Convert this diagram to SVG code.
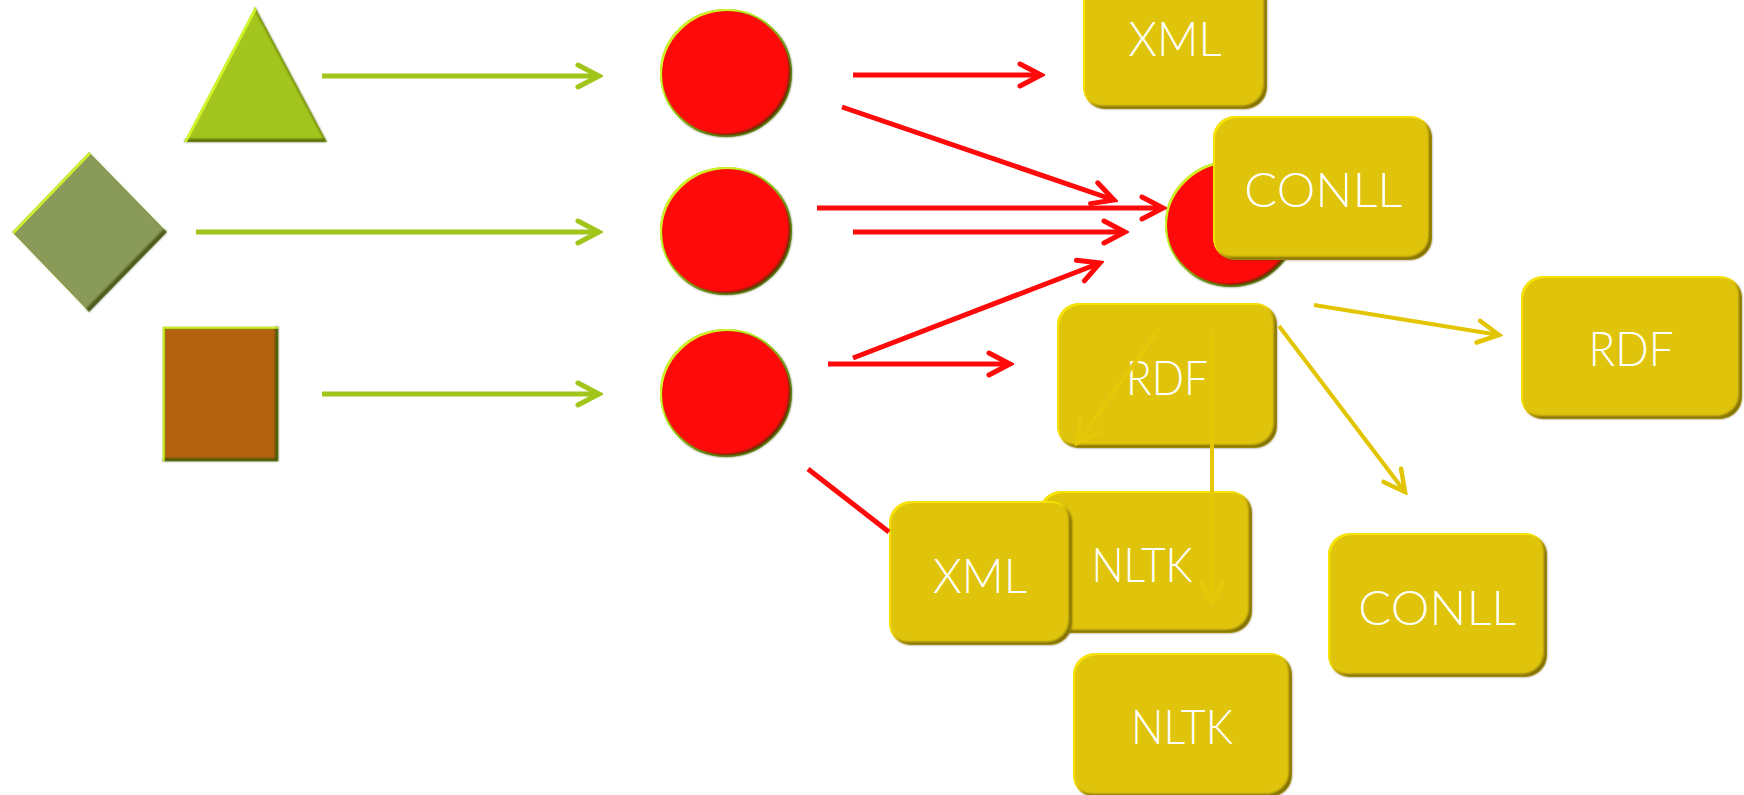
<svg xmlns="http://www.w3.org/2000/svg" width="1744" height="795" viewBox="0 0 1744 795">
  <style>
    .box { fill: #e0c40c; filter: url(#bevel-box); }
    .label { fill: #ffffff; font-family: Lato, "Open Sans", "Liberation Sans", sans-serif; font-weight: 300; font-size: 48px; text-anchor: middle; }
    .dot { fill: #ff0a0a; stroke: #8db51a; stroke-width: 2; filter: url(#bevel-shape); }
    .green { stroke: #a2c51c; stroke-width: 5; fill: none; marker-end: url(#head-green); }
    .red { stroke: #ff0a0a; stroke-width: 5; fill: none; }
    .red.arrow { marker-end: url(#head-red); }
    .gold { stroke: #e2c500; stroke-width: 4; fill: none; marker-end: url(#head-gold); }
    .gold.faint { stroke: #e5c808; marker-end: url(#head-faint); }
  </style>
  <defs>
    <!-- bevel: dark bottom/right rim, bright top/left rim -->
    <filter id="bevel-box" x="-5%" y="-5%" width="110%" height="110%" color-interpolation-filters="sRGB">
      <feOffset in="SourceAlpha" dx="-3" dy="-3" result="up"/>
      <feComposite in="SourceAlpha" in2="up" operator="out" result="brEdge"/>
      <feGaussianBlur in="brEdge" stdDeviation="0.9" result="brSoft"/>
      <feFlood flood-color="#3a3000" flood-opacity="0.6"/>
      <feComposite in2="brSoft" operator="in" result="dark"/>
      <feOffset in="SourceAlpha" dx="2" dy="2" result="down"/>
      <feComposite in="SourceAlpha" in2="down" operator="out" result="tlEdge"/>
      <feGaussianBlur in="tlEdge" stdDeviation="0.6" result="tlSoft"/>
      <feFlood flood-color="#fff200" flood-opacity="0.7"/>
      <feComposite in2="tlSoft" operator="in" result="light"/>
      <feMerge>
        <feMergeNode in="SourceGraphic"/>
        <feMergeNode in="dark"/>
        <feMergeNode in="light"/>
      </feMerge>
    </filter>
    <filter id="bevel-shape" x="-5%" y="-5%" width="110%" height="110%" color-interpolation-filters="sRGB">
      <feOffset in="SourceAlpha" dx="-3" dy="-3" result="up"/>
      <feComposite in="SourceAlpha" in2="up" operator="out" result="brEdge"/>
      <feGaussianBlur in="brEdge" stdDeviation="0.9" result="brSoft"/>
      <feFlood flood-color="#2e3a00" flood-opacity="0.7"/>
      <feComposite in2="brSoft" operator="in" result="dark"/>
      <feOffset in="SourceAlpha" dx="2" dy="2" result="down"/>
      <feComposite in="SourceAlpha" in2="down" operator="out" result="tlEdge"/>
      <feGaussianBlur in="tlEdge" stdDeviation="0.6" result="tlSoft"/>
      <feFlood flood-color="#d8ff2a" flood-opacity="0.85"/>
      <feComposite in2="tlSoft" operator="in" result="light"/>
      <feMerge>
        <feMergeNode in="SourceGraphic"/>
        <feMergeNode in="dark"/>
        <feMergeNode in="light"/>
      </feMerge>
    </filter>
    <!-- open chevron arrowheads -->
    <marker id="head-green" viewBox="-26 -15 30 30" refX="0" refY="0" markerWidth="30" markerHeight="30" markerUnits="userSpaceOnUse" orient="auto">
      <path d="M-21,-11 L0,0 L-21,11" fill="none" stroke="#a2c51c" stroke-width="5" stroke-linecap="round"/>
    </marker>
    <marker id="head-red" viewBox="-26 -15 30 30" refX="0" refY="0" markerWidth="30" markerHeight="30" markerUnits="userSpaceOnUse" orient="auto">
      <path d="M-21,-11 L0,0 L-21,11" fill="none" stroke="#ff0a0a" stroke-width="5" stroke-linecap="round"/>
    </marker>
    <marker id="head-gold" viewBox="-26 -15 30 30" refX="0" refY="0" markerWidth="30" markerHeight="30" markerUnits="userSpaceOnUse" orient="auto">
      <path d="M-21,-11 L0,0 L-21,11" fill="none" stroke="#e2c500" stroke-width="4.5" stroke-linecap="round"/>
    </marker>
    <marker id="head-faint" viewBox="-26 -15 30 30" refX="0" refY="0" markerWidth="30" markerHeight="30" markerUnits="userSpaceOnUse" orient="auto">
      <path d="M-21,-11 L0,0 L-21,11" fill="none" stroke="#e5c808" stroke-width="4" stroke-linecap="round"/>
    </marker>
  </defs>

  <rect width="1744" height="795" fill="#ffffff"/>

  <!-- source shapes -->
  <g id="triangle">
    <polygon points="255,7 327,142 184,142" fill="#a3c51d" filter="url(#bevel-shape)"/>
  </g>
  <g id="diamond">
    <polygon points="89,152 167,232 89,312 12,232" fill="#8a9a58" filter="url(#bevel-shape)"/>
  </g>
  <g id="square">
    <rect x="164" y="328" width="113" height="132" fill="#b5620e" stroke="#7a9412" stroke-width="2.5" filter="url(#bevel-shape)"/>
  </g>

  <!-- red hubs -->
  <g id="hub-1"><ellipse class="dot" cx="726" cy="73" rx="65" ry="63"/></g>
  <g id="hub-2"><ellipse class="dot" cx="726" cy="231" rx="65" ry="63"/></g>
  <g id="hub-3"><ellipse class="dot" cx="726" cy="393" rx="65" ry="63"/></g>
  <g id="hub-4"><ellipse class="dot" cx="1231" cy="224" rx="65" ry="62"/></g>

  <!-- format boxes -->
  <g id="xml-top">
    <rect class="box" x="1083" y="-31" width="184" height="140" rx="22"/>
    <text class="label" x="1175" y="56" textLength="93" lengthAdjust="spacingAndGlyphs">XML</text>
  </g>
  <g id="conll-top">
    <rect class="box" x="1213" y="116" width="219" height="144" rx="22"/>
    <text class="label" x="1323" y="207" textLength="158" lengthAdjust="spacingAndGlyphs">CONLL</text>
  </g>
  <g id="rdf-mid">
    <rect class="box" x="1057" y="303" width="220" height="145" rx="22"/>
    <text class="label" x="1167" y="395" textLength="82" lengthAdjust="spacingAndGlyphs">RDF</text>
  </g>
  <g id="rdf-right">
    <rect class="box" x="1521" y="276" width="221" height="143" rx="22"/>
    <text class="label" x="1631" y="366" textLength="85" lengthAdjust="spacingAndGlyphs">RDF</text>
  </g>
  <g id="nltk-mid">
    <rect class="box" x="1039" y="491" width="213" height="142" rx="22"/>
    <text class="label" x="1142" y="582" textLength="101" lengthAdjust="spacingAndGlyphs">NLTK</text>
  </g>
  <g id="xml-bottom">
    <rect class="box" x="889" y="501" width="183" height="144" rx="22"/>
    <text class="label" x="980" y="593" textLength="94" lengthAdjust="spacingAndGlyphs">XML</text>
  </g>
  <g id="conll-bottom">
    <rect class="box" x="1328" y="533" width="219" height="144" rx="22"/>
    <text class="label" x="1437" y="625" textLength="158" lengthAdjust="spacingAndGlyphs">CONLL</text>
  </g>
  <g id="nltk-bottom">
    <rect class="box" x="1073" y="653" width="219" height="144" rx="22"/>
    <text class="label" x="1182" y="744" textLength="102" lengthAdjust="spacingAndGlyphs">NLTK</text>
  </g>

  <!-- connectors -->
  <g id="connectors">
    <line class="green" x1="322" y1="76" x2="599" y2="76"/>
    <line class="green" x1="196" y1="232" x2="599" y2="232"/>
    <line class="green" x1="322" y1="394" x2="599" y2="394"/>

    <line class="red arrow" x1="853" y1="75" x2="1041" y2="75"/>
    <line class="red arrow" x1="842" y1="107" x2="1114" y2="200"/>
    <line class="red arrow" x1="817" y1="208" x2="1163" y2="208"/>
    <line class="red arrow" x1="853" y1="232" x2="1125" y2="232"/>
    <line class="red arrow" x1="853" y1="358" x2="1100" y2="263"/>
    <line class="red arrow" x1="828" y1="364" x2="1010" y2="364"/>
    <line class="red" x1="808" y1="469" x2="889" y2="532"/>

    <line class="gold" x1="1314" y1="305" x2="1499" y2="335"/>
    <line class="gold" x1="1279" y1="326" x2="1405" y2="492"/>
    <line class="gold faint" x1="1212" y1="330" x2="1212" y2="603"/>
    <line class="gold faint" x1="1160" y1="328" x2="1077" y2="443"/>
  </g>
</svg>
